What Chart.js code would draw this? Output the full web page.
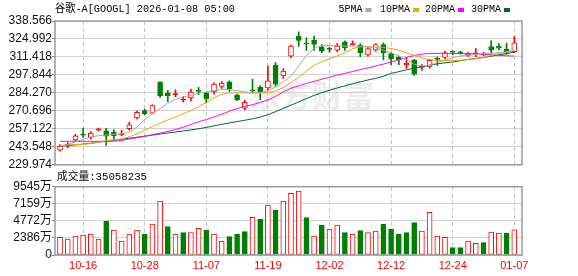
<!DOCTYPE html>
<html><head><meta charset="utf-8">
<script src="https://cdn.jsdelivr.net/npm/chart.js@4.4.1/dist/chart.umd.min.js"></script>
<style>
html,body{margin:0;padding:0;background:#fff;}
#wrap{position:relative;width:578px;height:276px;overflow:hidden;background:#fff;}
canvas{position:absolute;left:0;}
</style></head><body>
<div id="wrap"><canvas id="k" width="578" height="172" style="top:0"></canvas><canvas id="v" width="578" height="106" style="top:170px"></canvas></div>
<script>
// ---------------- data ----------------
const title = '谷歌-A[GOOGL] 2026-01-08 05:00';
const dates = ['10-13','10-14','10-15','10-16','10-17','10-20','10-21','10-22','10-23','10-24',
  '10-27','10-28','10-29','10-30','10-31','11-03','11-04','11-05','11-06','11-07',
  '11-10','11-11','11-12','11-13','11-14','11-17','11-18','11-19','11-20','11-21',
  '11-24','11-25','11-26','11-28','12-01','12-02','12-03','12-04','12-05','12-08',
  '12-09','12-10','12-11','12-12','12-15','12-16','12-17','12-18','12-19','12-22',
  '12-23','12-24','12-26','12-29','12-30','12-31','01-02','01-05','01-06','01-07'];
const tickIdx = [3, 11, 19, 27, 35, 43, 51, 59];
const openP  = [241.0,244.0,248.7,252.8,250.7,256.2,255.7,254.7,252.5,257.2,265.4,270.9,269.0,292.4,284.2,283.0,278.8,280.5,285.7,284.2,
  285.1,289.2,292.6,282.7,272.7,286.0,288.4,288.1,305.1,297.1,312.1,327.2,321.7,324.1,318.8,317.3,316.6,322.9,320.6,320.3,
  313.0,316.6,320.8,314.0,311.1,305.6,308.9,303.6,303.9,309.9,311.0,315.3,314.8,312.6,313.3,313.0,319.3,319.6,317.3,315.4];
const highP  = [245.2,246.8,253.0,257.7,255.0,257.7,257.5,256.6,256.0,262.0,270.5,271.9,275.3,292.8,286.2,286.5,281.4,287.2,288.4,284.7,
  291.8,292.9,293.3,283.4,278.9,294.6,289.6,304.6,307.1,302.6,320.3,330.3,325.9,327.2,320.8,318.8,321.6,323.6,323.6,321.3,
  319.0,321.6,322.1,314.6,312.0,310.8,309.6,305.6,309.6,311.3,315.8,316.0,315.6,314.8,317.8,315.0,323.7,321.6,321.8,326.8];
const lowP   = [240.2,242.8,247.5,250.7,249.6,255.7,244.7,249.2,252.0,256.2,264.6,267.7,268.6,280.8,277.7,281.5,277.4,278.4,283.0,276.7,
  283.4,287.7,285.4,278.4,271.4,284.2,279.2,286.5,289.6,295.2,310.9,319.4,316.4,316.4,314.6,315.1,315.4,316.4,320.3,311.6,
  312.0,315.8,309.1,305.6,305.6,302.7,297.4,301.3,302.9,305.1,310.0,313.0,313.6,311.8,311.6,312.3,313.8,316.8,313.3,314.6];
const closeP = [244.0,245.5,251.9,252.3,254.0,257.2,251.5,251.8,253.0,260.2,269.6,268.4,274.7,282.0,282.2,283.6,279.5,284.9,285.4,279.7,
  290.9,291.6,287.3,279.2,277.2,285.7,285.1,293.3,290.9,300.8,319.6,323.9,321.2,320.9,315.8,317.1,319.6,318.3,321.6,314.6,
  317.8,320.8,314.6,309.9,309.4,306.8,298.4,304.4,308.9,309.6,314.6,315.0,314.5,314.0,314.6,314.0,316.6,318.1,314.8,322.1];
const ma5  = [244.0,245.3,247.3,249.2,250.8,252.0,252.5,253.0,253.3,254.5,258.5,264.0,268.5,272.5,276.3,279.3,281.3,282.4,284.0,285.0,
  286.0,286.8,286.8,286.0,285.0,284.2,284.5,286.0,288.8,292.5,297.0,304.6,312.5,318.0,320.1,320.1,319.8,319.6,319.6,319.6,
  319.1,318.3,316.5,314.6,312.1,309.1,305.9,304.6,305.1,307.1,309.1,310.9,312.1,312.8,313.3,313.8,314.1,314.6,315.3,316.5];
const ma10 = [244.5,244.9,245.2,245.4,246.0,247.0,248.3,248.8,249.5,251.2,253.3,256.0,259.0,261.5,263.8,266.0,268.5,271.0,274.0,277.0,
  280.5,283.3,284.2,284.3,284.3,284.3,284.3,284.5,285.8,288.3,292.2,295.9,300.9,305.1,307.9,310.1,312.1,314.6,317.6,319.1,
  319.1,318.8,318.6,317.8,316.5,314.6,312.6,310.6,309.4,308.8,308.8,308.8,308.8,309.4,310.1,311.1,312.6,314.1,315.1,316.1];
const ma20 = [247.7,247.7,247.7,247.7,247.7,247.7,247.7,247.8,248.3,249.5,250.5,251.5,252.7,253.8,255.2,256.6,258.4,260.4,262.4,264.2,
  266.2,268.2,270.4,272.4,274.2,275.4,277.0,279.0,281.7,285.0,287.8,289.6,291.4,293.0,294.6,296.2,297.7,299.0,300.4,301.8,
  303.2,304.6,306.0,307.6,309.3,311.0,312.5,313.6,314.0,314.1,314.2,314.1,314.0,313.8,313.6,313.3,313.0,312.6,312.3,312.1];
const ma30 = [244.0,244.5,245.0,245.6,246.3,247.0,247.7,248.4,249.3,250.0,250.8,251.6,252.4,253.2,254.0,254.7,255.5,256.3,257.2,258.2,
  259.4,260.5,261.6,262.6,263.6,264.7,266.0,267.8,270.1,272.6,275.0,277.5,280.0,282.4,284.5,286.3,288.0,289.6,291.2,292.6,
  294.0,295.3,296.8,299.0,300.3,301.7,302.9,304.0,305.2,306.2,307.0,307.6,308.6,309.6,310.3,310.9,312.0,313.0,314.0,315.0];
const maNames = ['5PMA', '10PMA', '20PMA', '30PMA'];
const volume = [2468,2235,2654,2794,2933,2235,4749,3492,1956,2933,3492,2933,4330,7543,3958,2933,3120,3120,3725,3492,
  2933,1956,2561,2933,3259,5261,5029,6984,6286,7543,8614,8940,5215,2654,4191,3632,4191,3120,2933,3399,
  3120,3352,4330,3632,2933,3120,4517,3352,5960,2654,2468,1024,1024,1956,1630,1723,3213,3073,3073,3505.8235]; // 万股
const volUp = [1,1,1,1,1,1,0,1,1,1,1,0,1,1,0,1,0,1,1,0,1,1,0,0,0,1,0,1,0,1,1,1,0,1,0,1,1,0,1,0,
  1,1,0,0,0,0,0,1,1,1,1,0,0,1,1,0,1,1,0,1];
const priceTicks = [229.974, 243.548, 257.122, 270.696, 284.270, 297.844, 311.418, 324.992, 338.566];
const volTicks = [0, 2386, 4772, 7159, 9545];

// ---------------- style ----------------
const RED = '#ff0000', GREEN = '#008000';
const maColors = ['#a8a8a8', '#f2a400', '#ff00ff', '#006633'];
const GRID = '#d2d2d2', VGRID = '#c4c4c4', FRAME = '#9a9a9a';
const X_MIN = -0.65, X_MAX = 60;
Chart.defaults.font.family = "'Liberation Sans', 'Noto Sans CJK SC', sans-serif";
Chart.defaults.font.size = 12;
Chart.defaults.color = '#111';

const isUp = i => closeP[i] >= openP[i];
const small = i => Math.abs(closeP[i] - openP[i]) < 1.6;

function xScale(showLabels, h) {
  return {
    type: 'linear', min: X_MIN, max: X_MAX, offset: false,
    afterBuildTicks: s => { s.ticks = tickIdx.map(v => ({ value: v })); },
    afterFit: s => { s.height = h; },
    ticks: {
      display: showLabels, autoSkip: false, maxRotation: 0, padding: 4, color: RED,
      font: { size: 11, family: "'Liberation Sans', sans-serif" },
      callback: v => dates[v]
    },
    grid: { color: VGRID, lineWidth: 1, drawTicks: false, offset: false },
    border: { display: false, dash: [4, 3] }
  };
}
function frame(ctx, a) {
  ctx.save();
  ctx.strokeStyle = FRAME; ctx.lineWidth = 1.5;
  ctx.strokeRect(a.left, a.top, a.right - a.left, a.bottom - a.top);
  ctx.restore();
}
function squeezeText(ctx, txt, x, y, w, font, color) {
  ctx.save();
  ctx.font = font; ctx.fillStyle = color || '#000'; ctx.textBaseline = 'middle'; ctx.textAlign = 'left';
  ctx.fillText(txt, x, y, w);
  ctx.restore();
}

// ---------------- price chart ----------------
const kPlugin = {
  id: 'kdeco',
  beforeDatasetsDraw(chart) {
    const ctx = chart.ctx;
    ctx.save();
    ctx.font = "bold 31px 'Noto Sans CJK SC'";
    ctx.fillStyle = 'rgba(200,200,210,0.35)';
    ctx.textBaseline = 'middle';
    ctx.fillText('东方财富', 250, 95, 128);
    ctx.restore();
  },
  afterDraw(chart) {
    const ctx = chart.ctx;
    frame(ctx, chart.chartArea);
    const f = "11px 'Liberation Mono', 'Noto Sans CJK SC', monospace";
    squeezeText(ctx, title, 55, 9.5, 180, f);
    const lx = [338.5, 380, 425, 471];
    maNames.forEach((n, k) => {
      squeezeText(ctx, n, lx[k], 9.5, n.length * 6, f);
      ctx.fillStyle = maColors[k];
      ctx.fillRect(lx[k] + n.length * 6 + 3, 8, 6, 4);
    });
  }
};

const maSets = [ma5, ma10, ma20, ma30].map((arr, k) => ({
  type: 'line', label: maNames[k], data: arr.map((v, i) => ({ x: i, y: v })),
  borderColor: maColors[k], borderWidth: 1, pointRadius: 0, tension: 0, order: 0
}));

new Chart(document.getElementById('k'), {
  type: 'bar',
  data: {
    datasets: [
      ...maSets,
      {
        label: 'body', order: 1, grouped: false, barThickness: 5, minBarLength: 1,
        data: openP.map((o, i) => ({ x: i, y: [o, closeP[i]] })),
        backgroundColor: c => isUp(c.dataIndex) ? (small(c.dataIndex) ? RED : '#ffffff') : GREEN,
        borderColor: c => isUp(c.dataIndex) ? RED : GREEN,
        borderWidth: 1, borderSkipped: false
      },
      {
        label: 'upper', order: 2, grouped: false, barThickness: 1,
        data: highP.map((h, i) => ({ x: i, y: [Math.max(openP[i], closeP[i]), h] })),
        backgroundColor: c => isUp(c.dataIndex) ? RED : GREEN, borderWidth: 0
      },
      {
        label: 'lower', order: 2, grouped: false, barThickness: 1,
        data: lowP.map((l, i) => ({ x: i, y: [l, Math.min(openP[i], closeP[i])] })),
        backgroundColor: c => isUp(c.dataIndex) ? RED : GREEN, borderWidth: 0
      }
    ]
  },
  options: {
    responsive: false, animation: false, devicePixelRatio: 1,
    layout: { padding: { left: 0, right: 56, top: 21, bottom: 0 } },
    plugins: { legend: { display: false }, tooltip: { enabled: false } },
    scales: {
      x: xScale(false, 7),
      y: {
        min: priceTicks[0], max: priceTicks[priceTicks.length - 1],
        afterBuildTicks: s => { s.ticks = priceTicks.map(v => ({ value: v })); },
        afterFit: s => { s.width = 55; },
        ticks: { autoSkip: false, padding: 0, callback: (v, idx) => priceTicks[idx].toFixed(3) },
        grid: { color: GRID, lineWidth: 1, tickLength: 3, tickColor: '#888' },
        border: { display: false }
      }
    }
  },
  plugins: [kPlugin]
});

// ---------------- volume chart ----------------
const vPlugin = {
  id: 'vdeco',
  afterDraw(chart) {
    const ctx = chart.ctx;
    frame(ctx, chart.chartArea);
    const txt = '成交量:' + Math.round(volume[volume.length - 1] * 10000);
    squeezeText(ctx, txt, 57, 7, 90, "11px 'Liberation Mono', 'Noto Sans CJK SC', monospace");
  }
};

new Chart(document.getElementById('v'), {
  type: 'bar',
  data: {
    datasets: [{
      label: 'vol', grouped: false, barThickness: 5,
      data: volume.map((v, i) => ({ x: i, y: v })),
      backgroundColor: c => volUp[c.dataIndex] ? '#ffffff' : GREEN,
      borderColor: c => volUp[c.dataIndex] ? RED : GREEN,
      borderWidth: 1, borderSkipped: false
    }]
  },
  options: {
    responsive: false, animation: false, devicePixelRatio: 1,
    layout: { padding: { left: 0, right: 56, top: 16.7, bottom: 0 } },
    plugins: { legend: { display: false }, tooltip: { enabled: false } },
    scales: {
      x: xScale(true, 21),
      y: {
        min: 0, max: volTicks[volTicks.length - 1],
        afterBuildTicks: s => { s.ticks = volTicks.map(v => ({ value: v })); },
        afterFit: s => { s.width = 55; },
        ticks: { autoSkip: false, padding: 0, callback: (v, idx) => volTicks[idx] === 0 ? '0' : volTicks[idx] + '万' },
        grid: { color: GRID, lineWidth: 1, tickLength: 3, tickColor: '#888' },
        border: { display: false }
      }
    }
  },
  plugins: [vPlugin]
});
</script>
</body></html>
